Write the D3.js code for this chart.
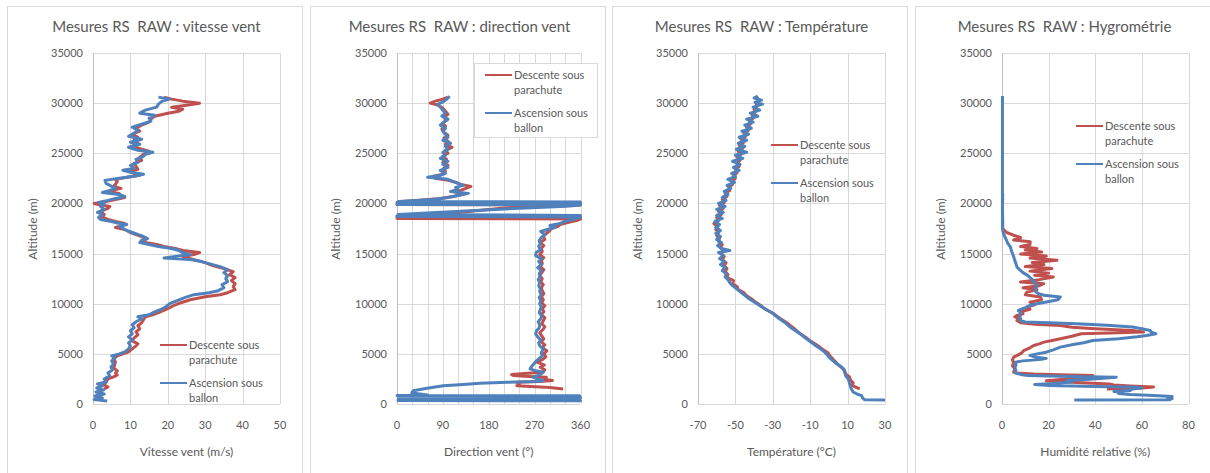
<!DOCTYPE html>
<html>
<head>
<meta charset="utf-8">
<script src="https://cdn.jsdelivr.net/npm/d3@7"></script>
<style>
  body { margin: 0; background: #fff; }
  svg { display: block; }
  text { font-family: Lato, "Open Sans", sans-serif; white-space: pre; }
</style>
</head>
<body>
<svg id="chart" width="1210" height="473"></svg>
<script>
// ── Data: [altitude (m), value] ───────────────────────────────────────────────
const seriesNames = ["Descente sous parachute", "Ascension sous ballon"];
const altTicks = [0, 5000, 10000, 15000, 20000, 25000, 30000, 35000];

const speedDown = [[1500,3],[1700,4],[1900,3],[2200,3.5],[2500,4],[2700,5.5],[2900,6.5],[3100,6],[3300,6.5],[3600,5.5],[3900,5.8],[4200,6],[4500,5.5],[4800,6.5],[5000,8],[5200,9.5],[5500,10.5],[5800,11.5],[6000,12],[6300,10.5],[6600,11],[6900,12],[7200,11.5],[7500,12.5],[7800,12],[8100,13],[8400,13.5],[8700,14],[8900,16],[9200,18],[9500,20],[9800,21.5],[10100,23.5],[10400,26],[10700,30],[10900,34],[11100,36],[11400,38],[11700,37.5],[12000,38],[12300,37],[12600,38],[12900,36.5],[13200,37.5],[13500,35],[13800,32],[14100,30],[14400,27],[14700,24],[14900,27],[15100,28.5],[15300,24],[15500,22],[15700,19],[15900,17],[16100,14],[16300,13],[16500,14.5],[16700,13],[16900,11.5],[17100,10],[17400,8.5],[17600,6],[17800,8],[18000,8.5],[18200,6],[18400,4],[18600,2.5],[18900,3],[19200,2],[19500,4],[19700,4.5],[19900,1.5],[20000,0.3],[20200,3.5],[20400,6],[20600,8.5],[20800,7.5],[21000,7],[21200,4],[21500,7.5],[21700,5.5],[21900,6],[22200,6.5],[22400,6],[22600,9],[22800,12.5],[23000,11],[23200,10],[23400,12],[23700,11.5],[24000,11],[24300,13],[24600,12.5],[24900,13.5],[25200,15],[25400,13],[25700,10.5],[26000,12],[26300,11],[26600,12],[26900,10.5],[27200,12.5],[27500,11.5],[27800,13],[28100,15],[28400,15.5],[28700,16.5],[29000,20],[29200,23],[29400,24],[29600,21],[29800,25],[30000,28.5],[30200,24],[30400,21],[30600,19]];
const speedUp = [[300,3.8],[450,0.3],[600,2.5],[800,0.5],[1000,3],[1200,0.8],[1400,2.8],[1600,1],[1800,2.5],[2000,1.2],[2200,3.5],[2500,3],[2800,4.5],[3100,4],[3400,5.2],[3700,4.8],[4000,5.5],[4300,5],[4600,5.8],[4800,5],[5000,7],[5200,8.5],[5500,9.5],[5800,10],[6100,9.5],[6400,10.5],[6700,9.5],[7000,10.5],[7300,10],[7600,11],[7900,10.5],[8200,11.5],[8500,13],[8700,12],[8900,15],[9100,16],[9400,18],[9700,19.5],[10000,20.5],[10300,22.5],[10600,24.5],[10900,27],[11100,31],[11300,33.5],[11600,35],[11900,34.5],[12200,36],[12500,35.5],[12800,36],[13100,35],[13400,36],[13700,34],[14000,31],[14200,29],[14400,26],[14550,19],[14700,22],[14900,26],[15100,24],[15300,23],[15500,21],[15700,17.5],[15900,15],[16100,12.5],[16300,13],[16500,14.5],[16700,13.5],[16900,12],[17100,10.5],[17300,9],[17500,8],[17700,7],[17900,9],[18050,6.5],[18200,5],[18400,2],[18600,1.5],[18900,2.5],[19100,1.2],[19400,3],[19700,2],[19900,3],[20100,1.5],[20300,4],[20500,6],[20700,8.5],[20900,7],[21100,2.5],[21300,4.5],[21500,6],[21700,5],[22000,3.5],[22300,3.2],[22500,7],[22700,11],[22900,13.5],[23100,10],[23300,8],[23500,11],[23800,10],[24100,12],[24400,11.5],[24700,13.5],[24900,14],[25100,16],[25300,12],[25600,9.5],[25900,12.5],[26100,10],[26400,13],[26700,9.5],[27000,11],[27300,12],[27600,10.5],[27900,13],[28200,15.5],[28500,15],[28800,16.5],[29000,12.5],[29300,14],[29600,17],[29900,17.5],[30200,18.5],[30400,20.5],[30600,17.5]];

const dirDown = [[1500,326],[1650,300],[1830,235],[2000,240],[2170,235],[2250,280],[2350,305],[2500,285],[2670,293],[2750,260],[2850,228],[2930,225],[3050,250],[3170,285],[3400,290],[3670,281],[3900,289],[4170,274],[4450,286],[4700,292],[5000,288],[5300,294],[5600,285],[5900,290],[6200,283],[6500,288],[6800,284],[7100,280],[7400,286],[7700,290],[8000,284],[8300,287],[8600,290],[8900,283],[9200,288],[9500,285],[9800,290],[10100,284],[10400,287],[10700,283],[11000,288],[11300,285],[11600,283],[11900,287],[12200,282],[12500,285],[12800,280],[13100,284],[13400,288],[13700,281],[14000,285],[14300,283],[14600,288],[14900,280],[15200,285],[15500,283],[15800,288],[16100,281],[16400,290],[16700,287],[17000,293],[17300,300],[17500,302],[17700,315],[17900,320],[18100,335],[18300,352],[18450,360],[18500,0],[18550,360],[18600,0],[18650,360],[18750,0],[19000,100],[19500,200],[19800,287],[19850,360],[19900,0],[20000,360],[20100,0],[20200,10],[20350,50],[20500,85],[20700,110],[20900,130],[21100,115],[21300,125],[21500,135],[21700,145],[21900,125],[22100,115],[22300,100],[22500,75],[22700,70],[22900,90],[23200,95],[23500,92],[23800,100],[24100,90],[24400,97],[24700,90],[25000,100],[25300,95],[25600,108],[25900,95],[26200,100],[26500,92],[26800,100],[27100,92],[27400,88],[27700,95],[28000,90],[28300,97],[28600,92],[28900,100],[29200,95],[29500,90],[29800,80],[30000,65],[30200,75],[30400,90],[30600,100]];
const dirUp = [[300,355],[330,360],[340,2],[600,3],[610,360],[830,358],[840,0],[900,60],[1000,45],[1100,29],[1200,30],[1330,32],[1450,45],[1570,59],[1700,75],[1830,91],[1950,130],[2070,163],[2170,216],[2250,270],[2330,287],[2500,275],[2670,267],[2900,280],[3170,287],[3350,270],[3500,261],[3800,265],[4170,271],[4500,278],[4800,285],[5100,283],[5500,287],[5800,280],[6100,278],[6400,282],[6700,276],[7000,272],[7300,274],[7600,279],[7900,280],[8200,277],[8500,282],[8800,284],[9100,279],[9400,281],[9700,283],[10000,280],[10300,282],[10600,279],[10900,283],[11200,280],[11500,281],[11800,278],[12100,280],[12400,277],[12700,281],[13000,279],[13300,283],[13600,276],[13900,283],[14200,278],[14500,283],[14800,272],[15100,273],[15400,282],[15700,278],[16000,281],[16300,279],[16600,283],[16900,290],[17200,282],[17400,295],[17600,310],[17800,300],[18000,320],[18200,328],[18400,345],[18600,358],[18650,360],[18700,0],[18800,360],[18900,2],[19000,40],[19330,163],[19730,333],[19850,360],[19900,0],[19950,360],[20000,0],[20050,360],[20100,2],[20150,360],[20200,3],[20300,40],[20450,80],[20600,100],[20800,120],[21000,140],[21200,105],[21400,120],[21600,115],[21800,130],[22000,120],[22200,110],[22400,100],[22600,60],[22800,85],[23000,95],[23300,85],[23600,100],[23900,90],[24200,100],[24500,85],[24800,95],[25100,90],[25400,100],[25700,95],[26000,105],[26300,90],[26600,100],[26900,95],[27200,90],[27500,95],[27800,85],[28100,92],[28400,100],[28700,88],[29000,95],[29300,90],[29600,85],[29900,80],[30100,90],[30300,95],[30500,100],[30700,103]];

const tempDown = [[1500,16.5],[1700,14],[1900,12.5],[2100,13],[2400,11.5],[2700,11],[3000,9],[3300,8.5],[3600,7],[3900,5],[4200,3.5],[4500,2],[4800,0.5],[5100,-0.5],[5400,-3],[5700,-5],[6000,-7.5],[6300,-10],[6600,-12],[6900,-14.5],[7200,-16.5],[7500,-18.5],[7800,-20.5],[8100,-22.5],[8400,-25],[8700,-27.5],[9000,-29.5],[9300,-32.5],[9600,-35],[9900,-37],[10200,-39.5],[10500,-41.5],[10800,-44],[11100,-45.5],[11400,-48.5],[11700,-49],[12000,-51.5],[12300,-51],[12600,-54.5],[12900,-54],[13200,-55.5],[13500,-54.5],[13800,-56],[14100,-55],[14400,-57],[14700,-56],[15000,-57.5],[15300,-56.5],[15600,-58],[15900,-57],[16200,-59],[16500,-58.5],[16800,-60],[17100,-59],[17400,-60.5],[17700,-59.5],[18000,-61.5],[18300,-59],[18600,-60],[18900,-57.5],[19200,-59],[19500,-56.5],[19800,-58.5],[20100,-56],[20400,-57],[20700,-54.5],[21000,-55.5],[21300,-53],[21600,-53.5],[21900,-51.5],[22200,-52],[22500,-50],[22800,-50.5],[23100,-49],[23400,-50],[23700,-48],[24000,-49],[24300,-47.5],[24600,-49],[24900,-47],[25200,-48.5],[25500,-46],[25800,-48],[26100,-45.5],[26400,-47],[26700,-44.5],[27000,-45.5],[27300,-43],[27600,-44],[27900,-42],[28200,-42.5],[28500,-40.5],[28800,-41],[29100,-39.5],[29400,-40],[29700,-38.5],[30000,-39],[30300,-37.5],[30600,-38.5]];
const tempUp = [[400,30],[430,19],[600,18],[830,17.5],[1000,15],[1200,13],[1500,12],[1800,11.5],[2100,11],[2490,10.4],[2800,9],[3100,8.5],[3480,8],[3800,6],[4150,3.2],[4500,1],[4800,-0.5],[5140,-2.1],[5500,-4.5],[5800,-7],[6140,-9.3],[6500,-12],[6800,-14],[7130,-16.4],[7500,-19.5],[7800,-21.5],[8130,-23.6],[8500,-26.5],[8800,-28.5],[9120,-30.7],[9400,-33.5],[9700,-36],[10000,-38.5],[10300,-41],[10600,-43.5],[10900,-45.5],[11200,-47.5],[11500,-49.5],[11800,-51.5],[12100,-53],[12400,-54],[12700,-55.5],[13000,-55],[13300,-57],[13600,-55.5],[13900,-58],[14200,-56],[14500,-58.5],[14800,-56.5],[15100,-59],[15300,-53],[15500,-57.5],[15800,-59.5],[16100,-57.5],[16400,-60],[16700,-58],[17000,-60.5],[17300,-58],[17600,-60.5],[17900,-58.5],[18200,-61],[18500,-57],[18800,-60],[19100,-56.5],[19400,-60],[19700,-55.5],[20000,-59],[20300,-55],[20600,-57],[20900,-54],[21200,-56],[21500,-52.5],[21800,-54.5],[22100,-50.5],[22400,-54],[22700,-50],[23000,-52],[23300,-48],[23600,-51],[23900,-47.5],[24200,-51.5],[24500,-46],[24800,-50],[25100,-44],[25400,-49.5],[25700,-45],[26000,-48.5],[26300,-44],[26600,-48],[26900,-43],[27200,-46.5],[27500,-41.5],[27800,-45],[28100,-40.5],[28400,-44],[28700,-38],[29000,-42],[29300,-37],[29600,-40.5],[29900,-35.5],[30100,-39.5],[30300,-36],[30500,-40],[30700,-38]];

const humDown = [[1500,45],[1600,60],[1700,65],[1800,55],[1900,48],[2000,46],[2150,32],[2330,19],[2500,28],[2650,35],[2830,39],[2920,25],[3000,13.6],[3100,6],[3170,5],[3500,5.5],[3800,4.5],[4100,5],[4400,4.5],[4670,5],[4900,7],[5100,8.5],[5330,9.3],[5600,12],[5830,13.6],[6000,16],[6170,18],[6350,22],[6500,25],[6750,30],[7000,34],[7100,50],[7170,60.7],[7250,58],[7330,56],[7500,40],[7650,30],[7830,25],[7950,14],[8100,8],[8330,6.4],[8500,8],[8700,5.5],[8830,6.4],[9000,9],[9200,8],[9450,12],[9670,10.7],[9900,14],[10150,12],[10400,17],[10670,16.4],[10900,10],[11170,10.7],[11400,15],[11600,9],[11800,16],[12000,17.9],[12170,7.9],[12400,16],[12670,22],[12850,14],[13050,20],[13250,12],[13500,21.4],[13700,10],[13900,18],[14100,13],[14330,23.6],[14550,12],[14750,19],[14950,8],[15150,17],[15350,10],[15500,15],[15700,8],[15900,12],[16170,12.1],[16350,5],[16600,8],[16830,4.9],[17100,2],[17500,0.3],[18500,0.3],[19500,0.2],[21000,0.3]];
const humUp = [[400,31],[420,72],[550,73],[650,71],[750,73],[850,65],[950,55],[1050,50],[1150,52],[1250,48],[1350,55],[1500,56],[1600,60],[1680,58],[1750,40],[1850,20],[1950,14],[2050,22],[2200,30],[2350,28],[2450,36],[2550,42],[2670,49],[2750,30],[2830,11],[2950,8],[3100,5.7],[3300,6],[3600,5.5],[3900,6],[4170,5.7],[4300,9],[4450,17],[4550,19],[4700,14],[4850,12],[5000,15],[5170,19],[5400,22],[5670,25],[5900,30],[6100,35],[6330,39],[6500,50],[6700,58],[6830,62],[7000,66],[7150,64],[7330,63.6],[7500,60],[7670,56],[7850,45],[8000,32],[8100,20],[8170,10],[8300,8],[8500,7.5],[8830,7.8],[9100,8],[9330,7],[9600,10],[9830,12],[10000,15],[10170,19],[10400,24],[10670,25],[10850,18],[11000,15.7],[11200,14.5],[11500,14.3],[11800,15],[12100,14],[12400,13],[12830,11],[13100,9],[13400,7.5],[13670,6.4],[14000,6],[14300,5.5],[14700,5],[15000,4.5],[15300,4],[15670,3.6],[16000,2.5],[16400,1.8],[16800,1],[17200,0.4],[17600,0.2],[19000,0.2],[21000,0.2],[24000,0.2],[27000,0.2],[30700,0.2]];

// ── Panels ────────────────────────────────────────────────────────────────────
const panels = [
  { left: 7, title: "Mesures RS  RAW : vitesse vent", xTitle: "Vitesse vent (m/s)",
    domain: [0, 50], ticks: [0, 10, 20, 30, 40, 50], grid: d3.range(0, 51, 10),
    plotL: 86, plotW: 187, down: speedDown, up: speedUp,
    legend: { x: 153, y: 345, box: false } },
  { left: 310, title: "Mesures RS  RAW : direction vent", xTitle: "Direction vent (°)",
    domain: [0, 360], ticks: [0, 90, 180, 270, 360], grid: d3.range(0, 361, 30),
    plotL: 87, plotW: 183.5, down: dirDown, up: dirUp,
    legend: { x: 175, y: 75, box: true } },
  { left: 612, title: "Mesures RS  RAW : Température", xTitle: "Température (°C)",
    domain: [-70, 30], ticks: [-70, -50, -30, -10, 10, 30], grid: d3.range(-70, 31, 20),
    plotL: 86, plotW: 187, down: tempDown, up: tempUp,
    legend: { x: 159, y: 145, box: false } },
  { left: 915, title: "Mesures RS  RAW : Hygrométrie", xTitle: "Humidité relative (%)",
    domain: [0, 80], ticks: [0, 20, 40, 60, 80], grid: d3.range(0, 81, 20),
    plotL: 87, plotW: 186.5, down: humDown, up: humUp,
    legend: { x: 161, y: 126, box: false } },
];

const colDown = "#c0504d", colUp = "#4f81bd";
const textCol = "#595959";
const gridCol = "#d9d9d9";
const panelW = 295, plotTop = 53, plotBottom = 404;

const svg = d3.select("#chart");

panels.forEach((p) => {
  const g = svg.append("g").attr("transform", `translate(${p.left},0)`);

  g.append("rect")
    .attr("x", 0.5).attr("y", 6.5)
    .attr("width", panelW).attr("height", 480)
    .attr("fill", "#fff").attr("stroke", gridCol);

  const x = d3.scaleLinear().domain(p.domain).range([p.plotL, p.plotL + p.plotW]);
  const y = d3.scaleLinear().domain([0, 35000]).range([plotBottom, plotTop]);

  // grid
  g.append("g").selectAll("line").data(altTicks).join("line")
    .attr("x1", p.plotL).attr("x2", p.plotL + p.plotW)
    .attr("y1", (d) => Math.round(y(d)) + 0.5).attr("y2", (d) => Math.round(y(d)) + 0.5)
    .attr("stroke", gridCol);
  g.append("g").selectAll("line").data(p.grid).join("line")
    .attr("x1", (d) => Math.round(x(d)) + 0.5).attr("x2", (d) => Math.round(x(d)) + 0.5)
    .attr("y1", plotTop).attr("y2", plotBottom)
    .attr("stroke", (d) => d === p.domain[0] ? "#bfbfbf" : gridCol);

  // y axis labels
  g.append("g").selectAll("text").data(altTicks).join("text")
    .attr("x", p.plotL - 10).attr("y", (d) => y(d) + 4)
    .attr("text-anchor", "end").attr("font-size", 11).attr("fill", textCol)
    .text((d) => d);

  // x axis labels
  g.append("g").selectAll("text").data(p.ticks).join("text")
    .attr("x", (d) => x(d)).attr("y", 429)
    .attr("text-anchor", "middle").attr("font-size", 11).attr("fill", textCol)
    .text((d) => d);

  // titles
  g.append("text").attr("x", panelW / 2 + 2).attr("y", 32)
    .attr("text-anchor", "middle").attr("font-size", 15).attr("fill", textCol)
    .text(p.title);
  g.append("text").attr("x", p.plotL + p.plotW / 2).attr("y", 456)
    .attr("text-anchor", "middle").attr("font-size", 12).attr("fill", textCol)
    .text(p.xTitle);
  g.append("text")
    .attr("transform", `translate(${30},${229}) rotate(-90)`)
    .attr("text-anchor", "middle").attr("font-size", 12).attr("fill", textCol)
    .text("Altitude (m)");

  // series
  const line = d3.line().x((d) => x(d[1])).y((d) => y(d[0]));
  [[p.down, colDown], [p.up, colUp]].forEach(([data, col]) => {
    g.append("path").datum(data)
      .attr("d", line)
      .attr("fill", "none").attr("stroke", col)
      .attr("stroke-width", 3).attr("stroke-linejoin", "round");
  });

  // legend
  const L = p.legend;
  if (L.box) {
    g.append("rect").attr("x", L.x - 10.5).attr("y", L.y - 11.5)
      .attr("width", 123).attr("height", 74)
      .attr("fill", "#fff").attr("stroke", gridCol);
  }
  [[colDown, ["Descente sous", "parachute"]], [colUp, ["Ascension sous", "ballon"]]]
    .forEach(([col, lines], i) => {
      const ly = L.y + i * 38;
      g.append("line").attr("x1", L.x).attr("x2", L.x + 27)
        .attr("y1", ly).attr("y2", ly).attr("stroke", col).attr("stroke-width", 2);
      lines.forEach((t, j) => {
        g.append("text").attr("x", L.x + 29).attr("y", ly + 4 + j * 15)
          .attr("font-size", 11).attr("fill", textCol).text(t);
      });
    });
});
</script>
</body>
</html>
